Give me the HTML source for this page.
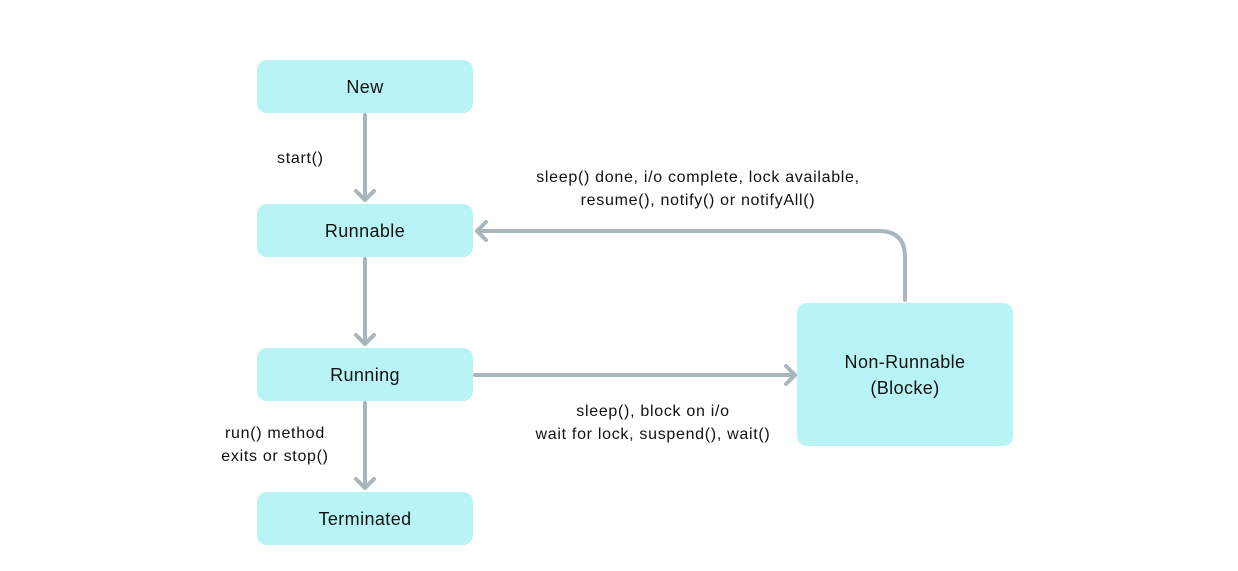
<!DOCTYPE html>
<html><head><style>
body{margin:0;width:1238px;height:571px;background:#fff;position:relative;font-family:"Liberation Sans",sans-serif;color:#111;overflow:hidden}
.b{position:absolute;background:#b8f4f6;border-radius:10px;display:flex;align-items:center;justify-content:center;text-align:center;font-size:18px;line-height:26px;letter-spacing:0.4px}
.t{position:absolute;font-size:16px;line-height:23px;text-align:center;white-space:nowrap;letter-spacing:0.7px}
</style></head><body>
<svg width="1238" height="571" style="position:absolute;left:0;top:0" fill="none" stroke="#a9b6be" stroke-width="4" stroke-linecap="round" stroke-linejoin="round">
<line x1="365" y1="115" x2="365" y2="200"/><polyline points="356,191 365,200 374,191"/>
<line x1="365" y1="259" x2="365" y2="344"/><polyline points="356,335 365,344 374,335"/>
<line x1="365" y1="403" x2="365" y2="488"/><polyline points="356,479 365,488 374,479"/>
<line x1="475" y1="375" x2="795" y2="375"/><polyline points="786,366 795,375 786,384"/>
<path d="M905 300 V257 Q905 231 879 231 H477"/><polyline points="486,222 477,231 486,240"/>
</svg>
<div class="b" style="left:257px;top:60px;width:216px;height:53px">New</div>
<div class="b" style="left:257px;top:204px;width:216px;height:53px">Runnable</div>
<div class="b" style="left:257px;top:348px;width:216px;height:53px">Running</div>
<div class="b" style="left:257px;top:492px;width:216px;height:53px">Terminated</div>
<div class="b" style="left:797px;top:303px;width:216px;height:143px">Non-Runnable<br>(Blocke)</div>
<div class="t" style="left:277px;top:147px;text-align:left">start()</div>
<div class="t" style="left:498px;top:166px;width:400px">sleep() done, i/o complete, lock available,<br>resume(), notify() or notifyAll()</div>
<div class="t" style="left:453px;top:400px;width:400px">sleep(), block on i/o<br>wait for lock, suspend(), wait()</div>
<div class="t" style="left:195px;top:422px;width:160px">run() method<br>exits or stop()</div>
</body></html>
